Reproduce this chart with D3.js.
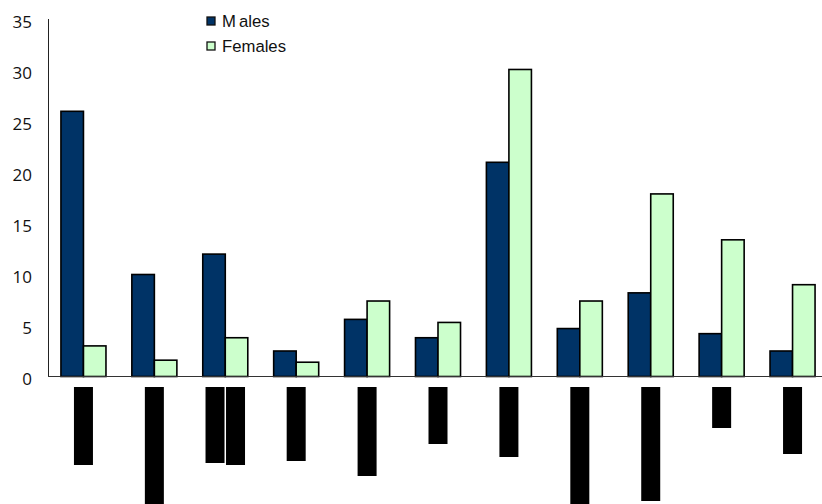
<!DOCTYPE html>
<html>
<head>
<meta charset="utf-8">
<script src="https://cdn.jsdelivr.net/npm/d3@7"></script>
<style>
html,body{margin:0;padding:0;background:#fff;}
svg{display:block;}
</style>
</head>
<body>
<svg id="chart" width="822" height="504"></svg>
<script>
const categories = ["C1","C2","C3","C4","C5","C6","C7","C8","C9","C10","C11"];
const males   = [26.0, 10.0, 12.0, 2.5, 5.6, 3.8, 21.0, 4.7, 8.2, 4.2, 2.5];
const females = [3.0, 1.6, 3.8, 1.4, 7.4, 5.3, 30.1, 7.4, 17.9, 13.4, 9.0];
const seriesNames = ["Males", "Females"];
const seriesColors = ["#003366", "#CCFFCC"];
const yTicks = [0, 5, 10, 15, 20, 25, 30, 35];
// redacted (blacked-out) category labels: length of each label line, in label-font units
const labelLines = [[78], [118], [76, 78], [74], [89], [57], [70], [118], [114], [41], [67]];

const svg = d3.select("#chart");
const x0 = d3.scaleBand().domain(categories).range([48, 828]).paddingInner(0.365).paddingOuter(0.1825);
const x1 = d3.scaleBand().domain(seriesNames).range([0, x0.bandwidth()]);
const y = d3.scaleLinear().domain([0, 35]).range([376.5, 19.5]);

const data = categories.map((c, i) => ({cat: c, vals: [males[i], females[i]]}));

// bars
const g = svg.append("g");
data.forEach(d => {
  d.vals.forEach((v, j) => {
    g.append("rect")
      .attr("x", x0(d.cat) + x1(seriesNames[j]))
      .attr("y", y(v))
      .attr("width", x1.bandwidth())
      .attr("height", y(0) - y(v))
      .attr("fill", seriesColors[j])
      .attr("stroke", "#000")
      .attr("stroke-width", 1.6);
  });
});

// axes
svg.append("line").attr("x1", 48.5).attr("x2", 48.5).attr("y1", 19).attr("y2", y(0)).attr("stroke", "#222").attr("stroke-width", 1);
svg.append("line").attr("x1", 48).attr("x2", 822).attr("y1", y(0)).attr("y2", y(0)).attr("stroke", "#333").attr("stroke-width", 1.2);

const yAxis = d3.axisLeft(y).tickValues(yTicks).tickSize(0).tickPadding(0).tickFormat(d3.format("d"));
const ya = svg.append("g").attr("transform", "translate(32,1.8)").call(yAxis);
ya.select(".domain").remove();
ya.selectAll("text").attr("font-family", "'Open Sans', 'Liberation Sans', sans-serif").attr("font-size", 17).attr("fill", "#111").attr("dy", "0.36em");

// redacted category labels
const lab = svg.append("g");
labelLines.forEach((lines, i) => {
  const cx = x0(categories[i]) + x0.bandwidth() / 2;
  const n = lines.length;
  lines.forEach((len, k) => {
    const off = (k - (n - 1) / 2) * 20.5;
    lab.append("rect")
      .attr("x", cx + off - 9.5)
      .attr("y", 387)
      .attr("width", 19)
      .attr("height", len)
      .attr("fill", "#000");
  });
});

// legend
const leg = svg.append("g");
seriesNames.forEach((s, j) => {
  const ly = 21 + j * 25;
  leg.append("rect").attr("x", 207).attr("y", ly - 4).attr("width", 8).attr("height", 8)
    .attr("fill", seriesColors[j]).attr("stroke", "#111").attr("stroke-width", 1.3);
  const t = leg.append("text").attr("x", 222).attr("y", ly).attr("dy", "0.36em")
    .attr("font-family", "'Liberation Sans', Arial, sans-serif").attr("font-size", 16.7).attr("fill", "#111");
  if (s === "Males") {
    t.append("tspan").text("M");
    t.append("tspan").attr("dx", 3).text("ales");
  } else {
    t.text(s);
  }
});
</script>
</body>
</html>
